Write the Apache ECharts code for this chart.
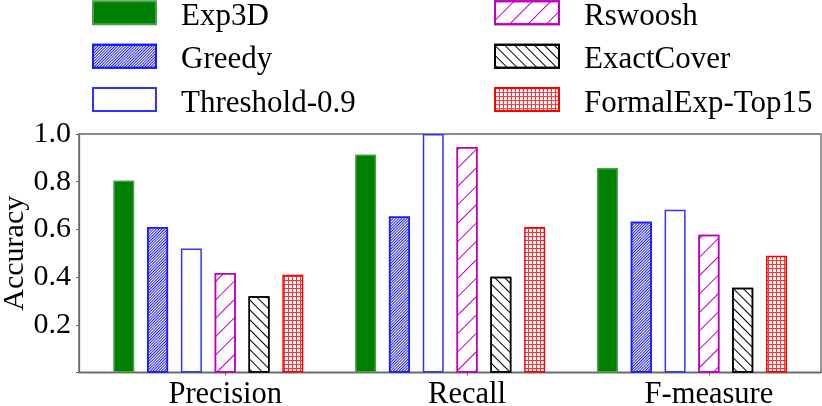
<!DOCTYPE html>
<html>
<head>
<meta charset="utf-8">
<script src="https://cdn.jsdelivr.net/npm/echarts@6/dist/echarts.min.js"></script>
<style>
  html, body { margin: 0; padding: 0; background: #fff; }
  #chart { width: 822px; height: 406px; }
</style>
</head>
<body>
<div id="chart"></div>
<script>
var chart = echarts.init(document.getElementById('chart'));

// data
var categories = ['Precision', 'Recall', 'F-measure'];
var seriesNames = ['Exp3D', 'Greedy', 'Threshold-0.9', 'Rswoosh', 'ExactCover', 'FormalExp-Top15'];
var exp3d     = [0.805, 0.914, 0.857];
var greedy    = [0.610, 0.654, 0.632];
var threshold = [0.520, 1.000, 0.682];
var rswoosh   = [0.417, 0.946, 0.578];
var exactCover = [0.320, 0.401, 0.355];
var formalExp = [0.410, 0.610, 0.490];
var yTicks = [0.2, 0.4, 0.6, 0.8, 1.0];

var font = 'Liberation Serif';
var axisColor = '#666';

// groups sit at 0,1,2 on a value axis; the tick labels are a half bar to the right
var tickShift = 0.07;

// small red grid tile for the "++" hatch
function gridTile() {
    var c = document.createElement('canvas');
    c.width = 4; c.height = 4;
    var ctx = c.getContext('2d');
    ctx.fillStyle = '#ffffff';
    ctx.fillRect(0, 0, 4, 4);
    ctx.fillStyle = '#ff3030';
    ctx.fillRect(0, 0, 4, 1);
    ctx.fillRect(0, 0, 1, 4);
    return { image: c, repeat: 'repeat' };
}

var styles = [
    { color: '#008000', borderColor: '#4c9f4c' },
    { color: '#ffffff', borderColor: '#1a1aff',
      decal: { symbol: 'rect', color: '#2222ff', dashArrayX: [1, 0], dashArrayY: [1, 1], rotation: -Math.PI / 4 } },
    { color: '#ffffff', borderColor: '#3333ff' },
    { color: '#ffffff', borderColor: '#bf00bf',
      decal: { symbol: 'rect', color: '#bf00bf', dashArrayX: [1, 0], dashArrayY: [1, 12], rotation: -Math.PI / 4 } },
    { color: '#ffffff', borderColor: '#000000',
      decal: { symbol: 'rect', color: '#000000', dashArrayX: [1, 0], dashArrayY: [1, 6], rotation: Math.PI / 4 } },
    { color: gridTile(), borderColor: '#ff0000' }
];

var values = [exp3d, greedy, threshold, rswoosh, exactCover, formalExp];

var series = seriesNames.map(function (name, k) {
    var itemStyle = {
        color: styles[k].color,
        borderColor: styles[k].borderColor,
        borderWidth: 1.5
    };
    if (styles[k].decal) itemStyle.decal = styles[k].decal;
    return {
        name: name,
        type: 'bar',
        barWidth: 21,
        barGap: '61%',
        itemStyle: itemStyle,
        data: values[k].map(function (v, i) { return [i, v]; })
    };
});

var legendText = { fontFamily: font, fontSize: 31, lineHeight: 23, color: '#000', padding: [0, 0, 0, 20] };

// legend box sits in the top part of the item so the text lines up a bit lower
function legendIcon(w) {
    return 'path://M0,0h' + w + 'v23h-' + w + 'zM0,31l0,0';
}

option = {
    animation: false,
    legend: [
        {
            data: seriesNames.slice(0, 3),
            orient: 'vertical',
            left: 92, top: 0.3, padding: 0,
            itemWidth: 63, itemHeight: 31, itemGap: 10.4,
            icon: legendIcon(63),
            selectedMode: false,
            textStyle: legendText
        },
        {
            data: seriesNames.slice(3),
            orient: 'vertical',
            left: 494, top: 0.3, padding: 0,
            itemWidth: 64, itemHeight: 31, itemGap: 10.4,
            icon: legendIcon(64),
            selectedMode: false,
            textStyle: legendText
        }
    ],
    grid: {
        left: 79, right: 1, top: 134, bottom: 33.5,
        containLabel: false,
        outerBoundsMode: 'none',
        show: true, borderColor: axisColor, borderWidth: 1.3
    },
    xAxis: {
        type: 'value',
        min: -0.5346,
        max: 2.5334,
        splitLine: { show: false },
        axisLine: { lineStyle: { color: axisColor, width: 1.3 } },
        axisTick: {
            show: true, length: 3, lineStyle: { color: axisColor },
            customValues: categories.map(function (c, i) { return i + tickShift; })
        },
        axisLabel: {
            customValues: categories.map(function (c, i) { return i + tickShift; }),
            formatter: function (v) { return categories[Math.round(v)]; },
            fontFamily: font, fontSize: 30.5, color: '#000', margin: 7
        }
    },
    yAxis: {
        type: 'value',
        min: 0, max: 1, interval: 0.2,
        name: 'Accuracy',
        nameLocation: 'middle',
        nameGap: 49,
        nameMoveOverlap: false,
        nameTextStyle: { fontFamily: font, fontSize: 30, color: '#000' },
        splitLine: { show: false },
        axisLine: { show: true, onZero: false, lineStyle: { color: axisColor, width: 1.3 } },
        axisTick: { show: true, length: 3, lineStyle: { color: axisColor } },
        axisLabel: {
            fontFamily: font, fontSize: 30, color: '#000', margin: 8,
            formatter: function (v) { return yTicks.indexOf(Math.round(v * 10) / 10) >= 0 ? v.toFixed(1) : ''; }
        }
    },
    series: series
};

chart.setOption(option);
</script>
</body>
</html>
